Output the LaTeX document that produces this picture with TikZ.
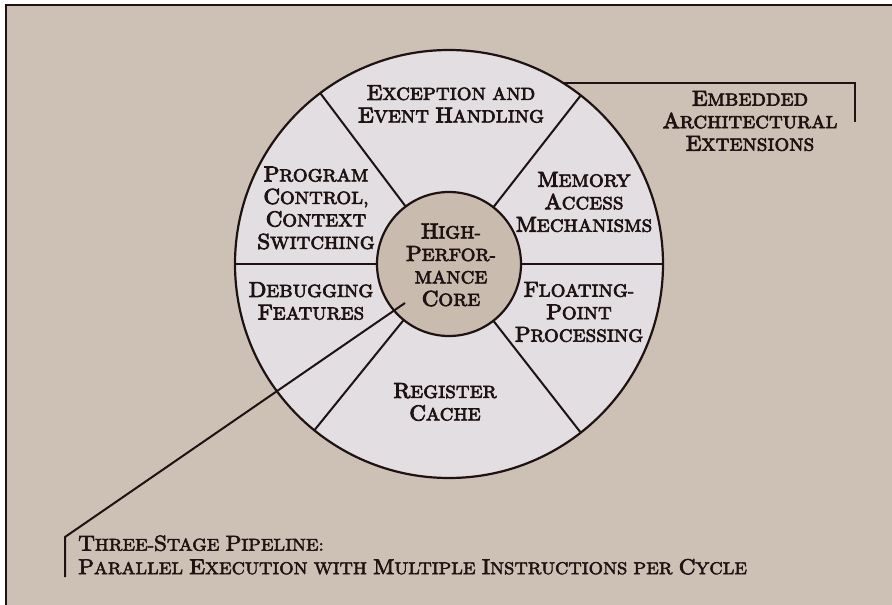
\documentclass[tikz,border=0pt]{standalone}
\usepackage{fontspec}
\newfontfamily\labfont{lmroman10-regular.otf}[FakeBold=4, FakeStretch=1.07, LetterSpace=1.5]
\newfontfamily\pipefont{lmroman10-regular.otf}[FakeBold=3, FakeStretch=1.08, LetterSpace=1]
\newcommand\ic[1]{{\fontsize{21.5}{22.5}\selectfont #1}}
\definecolor{bgc}{RGB}{205,192,180}
\definecolor{wheelc}{RGB}{227,222,226}
\definecolor{corec}{RGB}{201,188,174}
\definecolor{ink}{RGB}{30,18,18}
\tikzset{
  lab/.style={font=\labfont\fontsize{17.5}{22.5}\selectfont, align=center, text=ink, inner sep=0pt},
  pipelab/.style={font=\pipefont\fontsize{17}{23.5}\selectfont, align=left, text=ink, inner sep=0pt, anchor=west},
  ring/.style={circle, draw=ink, line width=2.2pt, inner sep=0pt, outer sep=0pt},
  divider/.style={draw=ink, line width=2pt},
  leader/.style={draw=ink, line width=2pt},
}
\begin{document}
\begin{tikzpicture}[x=1pt,y=-1pt]
\useasboundingbox (0,0) rectangle (892,605);
\fill[white] (0,0) rectangle (892,605);
\fill[bgc] (6,5) rectangle (892,605);
\draw[ink, line width=1.4pt] (892,5) -- (6,5) -- (6,605);

\coordinate (C) at (449,264);
\node[ring, fill=wheelc, minimum size=428pt] (wheel) at (C) {};
\node[ring, fill=corec, minimum size=144pt] (core) at (C) {};

\foreach \a in {127,52,0,180,231,308}
  \draw[divider] (core.\a) -- (wheel.\a);

% leaders
\coordinate (ebr) at (855,122);
\draw[leader] (wheel.58) -| (ebr);
\coordinate (pstart) at (405,303);
\coordinate (pcorner) at (65,537);
\coordinate (pend) at (65,577);
\draw[leader] (pstart) -- (pcorner) -- (pend);

% labels
\node[lab] (exc) at (451,104) {\ic{E}XCEPTION AND\\\ic{E}VENT \ic{H}ANDLING};
\node[lab] (prog) at (316,208) {\ic{P}ROGRAM\\\ic{C}ONTROL,\\\ic{C}ONTEXT\\\ic{S}WITCHING};
\node[lab] (mem) at (584,202) {\ic{M}EMORY\\\ic{A}CCESS\\\ic{M}ECHANISMS};
\node[lab] (hpc) at (451,265) {\ic{H}IGH-\\\ic{P}ERFOR-\\MANCE\\\ic{C}ORE};
\node[lab] (dbg) at (311,301) {\ic{D}EBUGGING\\\ic{F}EATURES};
\node[lab] (fpp) at (579,312) {\ic{F}LOATING-\\\ic{P}OINT\\\ic{P}ROCESSING};
\node[lab] (reg) at (445,402) {\ic{R}EGISTER\\\ic{C}ACHE};
\node[lab] (emb) at (750,121) {\ic{E}MBEDDED\\\ic{A}RCHITECTURAL\\\ic{E}XTENSIONS};
\node[pipelab] (pipe) at (78,555) {\ic{T}HREE-\ic{S}TAGE \ic{P}IPELINE:\\\ic{P}ARALLEL \ic{E}XECUTION WITH \ic{M}ULTIPLE \ic{I}NSTRUCTIONS PER \ic{C}YCLE};
\end{tikzpicture}
\end{document}
